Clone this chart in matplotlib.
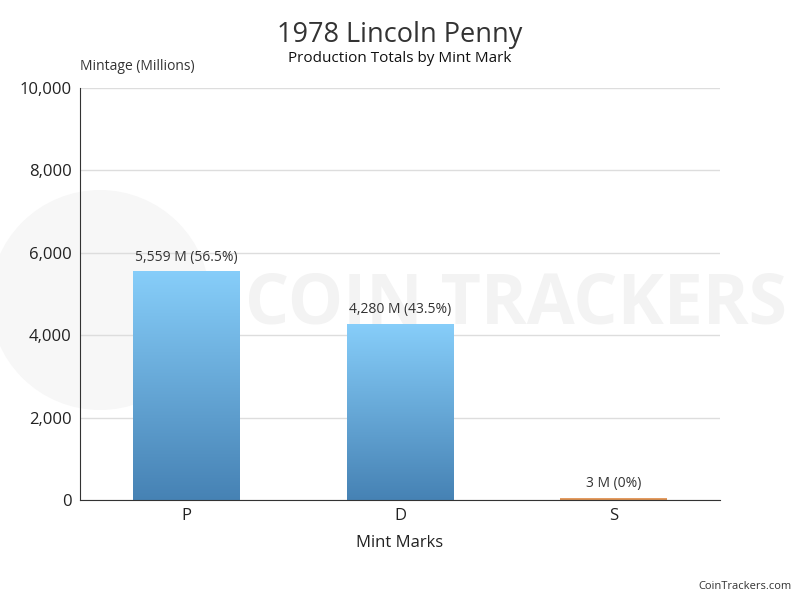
import numpy as np
import matplotlib.pyplot as plt
from matplotlib.patches import Circle
from matplotlib.colors import LinearSegmentedColormap

# data
mints = ["P", "D", "S"]
mintage = [5559, 4280, 3]
labels = ["5,559 M (56.5%)", "4,280 M (43.5%)", "3 M (0%)"]

plt.rcParams['font.family'] = ['Open Sans', 'DejaVu Sans']

fig = plt.figure(figsize=(8, 6), dpi=100)
fig.patch.set_facecolor("white")

# faint watermark in a background axes (pixel coords)
bg = fig.add_axes([0, 0, 1, 1], zorder=-1)
bg.set_xlim(0, 800)
bg.set_ylim(600, 0)
bg.axis("off")
bg.add_patch(Circle((100, 300), 110, facecolor="#f7f7f7", edgecolor="none"))
bg.text(245, 305, "COIN TRACKERS", fontsize=50, fontweight="bold",
        color="#f3f3f3", ha="left", va="center")

ax = fig.add_axes([0.1, 0.1667, 0.8, 0.6866], zorder=1)
ax.set_facecolor("none")

blue = LinearSegmentedColormap.from_list("b", ["#4682b4", "#87cefa"])
orange = LinearSegmentedColormap.from_list("o", ["#d2874a", "#f4b27a"])
grad = np.linspace(0, 1, 256).reshape(-1, 1)

width = 0.5
for i, (m, v, lab) in enumerate(zip(mints, mintage, labels)):
    cmap = orange if m == "S" else blue
    h = max(v, 60)  # keep the tiny S bar visible as a thin strip
    bar = ax.bar(i, h, width=width, color="none", zorder=2)[0]
    im = ax.imshow(grad, cmap=cmap, aspect="auto", origin="lower",
                   extent=[i - width / 2, i + width / 2, 0, h], zorder=2)
    im.set_clip_path(bar)
    ax.text(i, max(v, 60) + 150, lab, ha="center", va="bottom", fontsize=10,
            color="#333333")

ax.set_xlim(-0.5, 2.5)
ax.set_ylim(0, 10000)
ax.set_yticks([0, 2000, 4000, 6000, 8000, 10000])
ax.set_yticklabels(["0", "2,000", "4,000", "6,000", "8,000", "10,000"])
ax.set_xticks(range(3))
ax.set_xticklabels(mints)
ax.tick_params(axis="y", labelsize=12, length=0, pad=6, labelcolor="#222222")
ax.tick_params(axis="x", labelsize=12, length=0, pad=6, labelcolor="#222222")
ax.grid(axis="y", color="#dddddd", linewidth=1, zorder=0)
ax.set_axisbelow(True)
for s in ["top", "right"]:
    ax.spines[s].set_visible(False)
ax.spines["left"].set_color("#333333")
ax.spines["bottom"].set_color("#333333")

ax.set_xlabel("Mint Marks", fontsize=12, color="#222222", labelpad=8)
fig.text(0.1, 0.877, "Mintage (Millions)", fontsize=10, color="#333333",
         ha="left", va="bottom")

fig.text(0.5, 0.942, "1978 Lincoln Penny", fontsize=19.5, color="#333333",
         ha="center", va="center")
fig.text(0.5, 0.902, "Production Totals by Mint Mark", fontsize=11, color="#111111",
         ha="center", va="center")
fig.text(0.99, 0.022, "CoinTrackers.com", fontsize=8, color="#333333",
         ha="right", va="center")

fig.savefig("out.png", dpi=100)
